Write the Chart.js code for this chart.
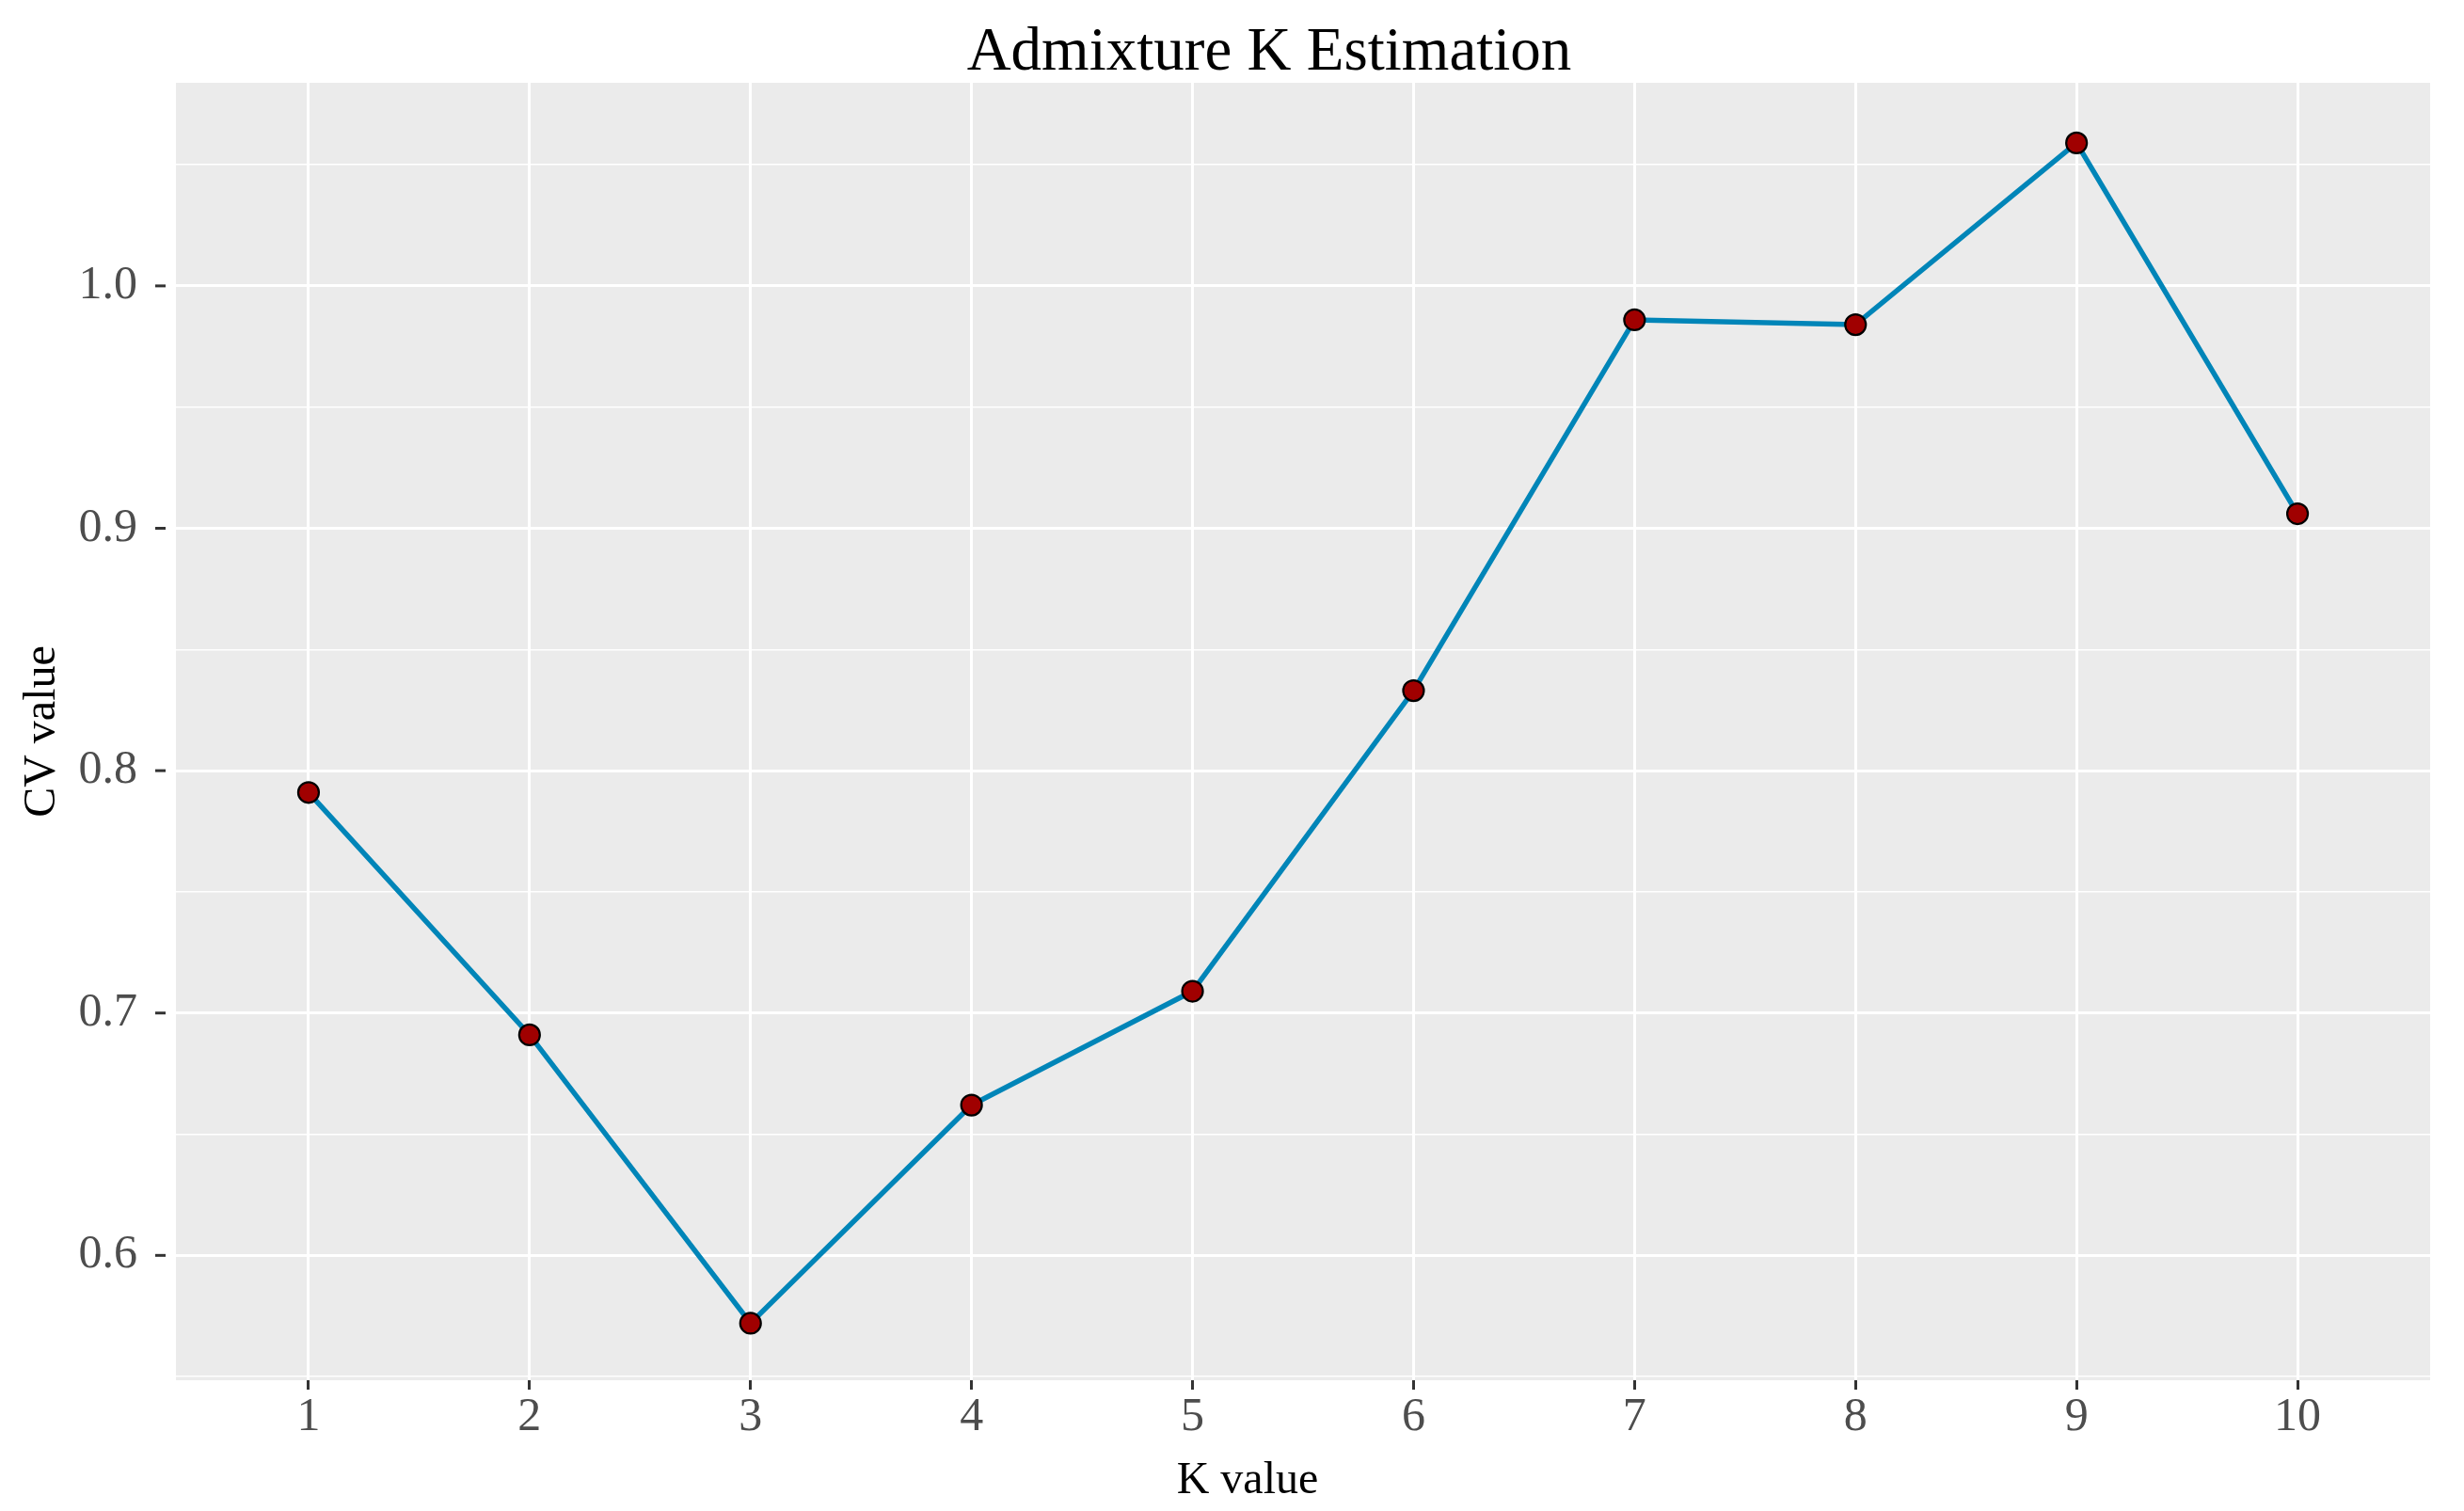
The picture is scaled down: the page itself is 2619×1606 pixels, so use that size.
<!DOCTYPE html>
<html>
<head>
<meta charset="utf-8">
<script src="https://cdn.jsdelivr.net/npm/chart.js@4.4.1/dist/chart.umd.min.js"></script>
<style>
html,body{margin:0;padding:0;background:#fff;}
#c{display:block;}
</style>
</head>
<body>
<canvas id="c" width="2619" height="1606"></canvas>
<script>
const kValues = [1, 2, 3, 4, 5, 6, 7, 8, 9, 10];
const cvValues = [0.791, 0.691, 0.572, 0.662, 0.709, 0.833, 0.986, 0.984, 1.059, 0.906];
const yMajorTicks = [0.6, 0.7, 0.8, 0.9, 1.0];
const yMinorTicks = [0.55, 0.65, 0.75, 0.85, 0.95, 1.05];
const titleText = 'Admixture K Estimation';
const xTitleText = 'K value';
const yTitleText = 'CV value';

const FONT = '"Liberation Serif", "Times New Roman", serif';

const isMajor = v => yMajorTicks.some(m => Math.abs(m - v) < 1e-6);

const decorPlugin = {
  id: 'decor',
  beforeDraw(chart) {
    const {ctx, chartArea: a} = chart;
    ctx.save();
    ctx.fillStyle = '#ffffff';
    ctx.fillRect(0, 0, chart.width, chart.height);
    ctx.fillStyle = '#EBEBEB';
    ctx.fillRect(a.left, a.top, a.right - a.left, a.bottom - a.top);
    ctx.restore();
  },
  afterDraw(chart) {
    const {ctx, chartArea: a} = chart;
    const ys = chart.scales.y;
    ctx.save();
    ctx.strokeStyle = '#333333';
    ctx.lineWidth = 3;
    yMajorTicks.forEach(v => {
      const py = ys.getPixelForValue(v);
      ctx.beginPath();
      ctx.moveTo(a.left - 22, py);
      ctx.lineTo(a.left - 11, py);
      ctx.stroke();
    });
    ctx.fillStyle = '#000000';
    ctx.textAlign = 'center';
    ctx.textBaseline = 'alphabetic';
    ctx.font = '65px ' + FONT;
    ctx.fillText(titleText, 1349, 74);
    ctx.font = '48px ' + FONT;
    ctx.fillText(xTitleText, 1326, 1587);
    ctx.translate(58, (a.top + a.bottom) / 2);
    ctx.rotate(-Math.PI / 2);
    ctx.fillText(yTitleText, 0, 0);
    ctx.restore();
  }
};

new Chart(document.getElementById('c'), {
  type: 'line',
  data: {
    datasets: [{
      data: kValues.map((k, i) => ({x: k, y: cvValues[i]})),
      borderColor: '#0085B8',
      borderWidth: 5.5,
      tension: 0,
      fill: false,
      pointRadius: 11,
      pointBackgroundColor: '#A00000',
      pointBorderColor: '#000000',
      pointBorderWidth: 2.2,
      pointHoverRadius: 11
    }]
  },
  options: {
    responsive: false,
    animation: false,
    devicePixelRatio: 1,
    layout: {padding: {left: 0, top: 88, right: 36, bottom: 0}},
    plugins: {
      legend: {display: false},
      title: {display: false},
      tooltip: {enabled: false}
    },
    scales: {
      x: {
        type: 'linear',
        min: 0.4,
        max: 10.6,
        afterBuildTicks: s => { s.ticks = kValues.map(v => ({value: v})); },
        afterFit: s => { s.height = 139; },
        border: {display: false},
        grid: {
          color: '#FFFFFF',
          lineWidth: 3,
          drawTicks: true,
          tickLength: 10,
          tickColor: '#333333',
          tickWidth: 3
        },
        ticks: {
          autoSkip: false,
          maxRotation: 0,
          padding: 0,
          color: '#4D4D4D',
          font: {family: FONT, size: 50},
          callback: v => String(v)
        }
      },
      y: {
        type: 'linear',
        min: 0.5485,
        max: 1.0838,
        afterBuildTicks: s => {
          s.ticks = yMinorTicks.concat(yMajorTicks).sort((p, q) => p - q).map(v => ({value: v}));
        },
        afterFit: s => { s.width = 187; },
        border: {display: false},
        grid: {
          color: '#FFFFFF',
          lineWidth: ctx => (ctx.tick && isMajor(ctx.tick.value)) ? 3 : 1.5,
          drawTicks: false
        },
        ticks: {
          autoSkip: false,
          padding: 41,
          color: '#4D4D4D',
          font: {family: FONT, size: 50},
          callback: v => isMajor(v) ? v.toFixed(1) : ''
        }
      }
    }
  },
  plugins: [decorPlugin]
});
</script>
</body>
</html>
